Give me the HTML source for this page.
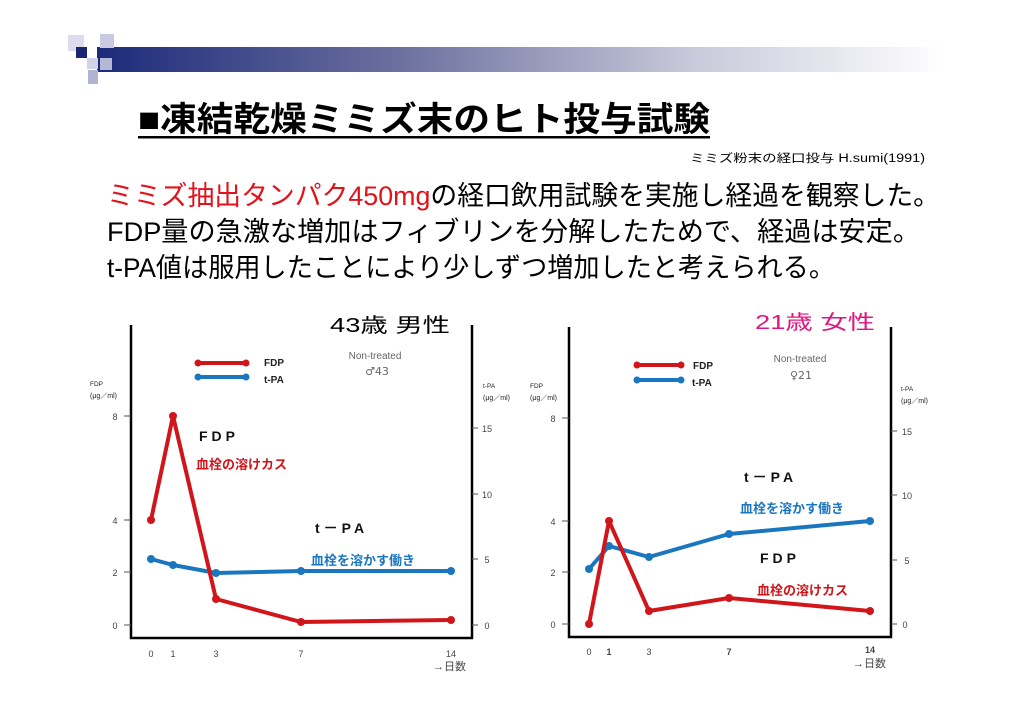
<!DOCTYPE html>
<html><head><meta charset="utf-8"><style>
html,body{margin:0;padding:0;background:#fff;}
svg{display:block;}
text{font-family:"Liberation Sans","Noto Sans CJK JP",sans-serif;}
</style></head><body>
<svg width="1024" height="724" viewBox="0 0 1024 724" xmlns="http://www.w3.org/2000/svg">
<defs>
<linearGradient id="g" x1="0" x2="1" y1="0" y2="0">
<stop offset="0" stop-color="#1c2a7a"/><stop offset="0.35" stop-color="#6a6f9e"/><stop offset="0.7" stop-color="#c8c9da"/><stop offset="1" stop-color="#ffffff"/>
</linearGradient>
</defs>
<rect width="1024" height="724" fill="#fff"/>
<!-- header decoration -->
<rect x="97" y="47" width="850" height="25" fill="url(#g)"/>
<rect x="68" y="35" width="16" height="16" fill="#dcdcee"/>
<rect x="100" y="34" width="14" height="14" fill="#c9cae2"/>
<rect x="76" y="47" width="11" height="11" fill="#1a2470"/>
<rect x="87" y="58" width="11" height="11" fill="#d2d3e8"/>
<rect x="100" y="58" width="12" height="12" fill="#b6b8d6"/>
<rect x="88" y="70" width="10" height="14" fill="#b2b3d2"/>
<!-- title -->
<text x="138" y="131" font-size="34" font-weight="bold" textLength="572" lengthAdjust="spacingAndGlyphs" fill="#000">■凍結乾燥ミミズ末のヒト投与試験</text>
<rect x="138" y="136" width="572" height="2.5" fill="#000"/>
<text x="690" y="162" font-size="11.5" textLength="235" lengthAdjust="spacingAndGlyphs">ミミズ粉末の経口投与  H.sumi(1991)</text>
<!-- body -->
<text x="107" y="205" font-size="27" textLength="833" lengthAdjust="spacingAndGlyphs"><tspan fill="#e3111a">ミミズ抽出タンパク450mg</tspan><tspan fill="#000">の経口飲用試験を実施し経過を観察した。</tspan></text>
<text x="107" y="241" font-size="27" textLength="813" lengthAdjust="spacingAndGlyphs" fill="#000">FDP量の急激な増加はフィブリンを分解したためで、経過は安定。</text>
<text x="107" y="277" font-size="27" textLength="728" lengthAdjust="spacingAndGlyphs" fill="#000">t-PA値は服用したことにより少しずつ増加したと考えられる。</text>

<!-- Chart 1 -->
<g font-family="Liberation Serif" >
<text x="330" y="332" font-size="20" textLength="120" lengthAdjust="spacingAndGlyphs" fill="#000" style="font-family:'Liberation Sans','Noto Sans CJK JP',sans-serif">43歳  男性</text>
<path d="M131 325 V638 H472 V325" fill="none" stroke="#000" stroke-width="2.5"/>
<g stroke="#555" stroke-width="1"><line x1="124" y1="416" x2="131" y2="416"/><line x1="124" y1="520" x2="131" y2="520"/><line x1="124" y1="572" x2="131" y2="572"/><line x1="124" y1="625" x2="131" y2="625"/>
<line x1="472" y1="428" x2="478" y2="428"/><line x1="472" y1="494" x2="478" y2="494"/><line x1="472" y1="559" x2="478" y2="559"/><line x1="472" y1="625" x2="478" y2="625"/></g>
<g font-size="9" fill="#444" text-anchor="middle" style="font-family:'Liberation Serif',serif">
<text x="115" y="420">8</text><text x="115" y="524">4</text><text x="115" y="576">2</text><text x="115" y="629">0</text>
<text x="487" y="432">15</text><text x="487" y="498">10</text><text x="487" y="563">5</text><text x="487" y="629">0</text>
<text x="151" y="657">0</text><text x="173" y="657">1</text><text x="216" y="657">3</text><text x="301" y="657">7</text><text x="451" y="657">14</text>
</g>
<text x="433" y="670" font-size="11" fill="#444" style="font-family:'Liberation Sans','Noto Sans CJK JP',sans-serif">→日数</text>
<text x="90" y="386" font-size="6.5" fill="#222" style="font-family:'Liberation Sans',sans-serif">FDP</text>
<text x="90" y="398" font-size="7" fill="#222" style="font-family:'Liberation Sans','Noto Sans CJK JP',sans-serif">(μg／ml)</text>
<text x="483" y="388" font-size="6.5" fill="#222" style="font-family:'Liberation Sans',sans-serif">t-PA</text>
<text x="483" y="400" font-size="7" fill="#222" style="font-family:'Liberation Sans','Noto Sans CJK JP',sans-serif">(μg／ml)</text>
<line x1="198" y1="363" x2="246" y2="363" stroke="#d0151b" stroke-width="4" stroke-linecap="round"/>
<circle cx="198" cy="363" r="3.5" fill="#d0151b"/><circle cx="246" cy="363" r="3.5" fill="#d0151b"/>
<line x1="198" y1="377" x2="246" y2="377" stroke="#1b76c0" stroke-width="4" stroke-linecap="round"/>
<circle cx="198" cy="377" r="3.5" fill="#1b76c0"/><circle cx="246" cy="377" r="3.5" fill="#1b76c0"/>
<text x="264" y="366" font-size="10" font-weight="bold" fill="#222" style="font-family:'Liberation Sans',sans-serif">FDP</text>
<text x="264" y="383" font-size="10" font-weight="bold" fill="#222" style="font-family:'Liberation Sans',sans-serif">t-PA</text>
<text x="375" y="359" font-size="10" fill="#666" text-anchor="middle" style="font-family:'Liberation Sans',sans-serif">Non-treated</text>
<text x="377" y="375" font-size="11" fill="#666" text-anchor="middle" style="font-family:'DejaVu Sans',sans-serif">♂43</text>
<text x="199" y="441" font-size="14" font-weight="bold" fill="#111" letter-spacing="4" style="font-family:'Liberation Sans',sans-serif">FDP</text>
<text x="196" y="469" font-size="13" font-weight="bold" fill="#d0151b" style="font-family:'Liberation Sans','Noto Sans CJK JP',sans-serif">血栓の溶けカス</text>
<text x="315" y="533" font-size="14" font-weight="bold" fill="#111" letter-spacing="4" style="font-family:'Liberation Sans',sans-serif">t－PA</text>
<text x="311" y="565" font-size="13" font-weight="bold" fill="#1b76c0" style="font-family:'Liberation Sans','Noto Sans CJK JP',sans-serif">血栓を溶かす働き</text>
<polyline points="151,559 173,565 216,573 301,571 451,571" fill="none" stroke="#1b76c0" stroke-width="4" stroke-linejoin="round"/>
<g fill="#1b76c0"><circle cx="151" cy="559" r="4"/><circle cx="173" cy="565" r="4"/><circle cx="216" cy="573" r="4"/><circle cx="301" cy="571" r="4"/><circle cx="451" cy="571" r="4"/></g>
<polyline points="151,520 173,416 216,599 301,622 451,620" fill="none" stroke="#d0151b" stroke-width="4" stroke-linejoin="round"/>
<g fill="#d0151b"><circle cx="151" cy="520" r="4"/><circle cx="173" cy="416" r="4"/><circle cx="216" cy="599" r="4"/><circle cx="301" cy="622" r="4"/><circle cx="451" cy="620" r="4"/></g>
</g>

<!-- Chart 2 -->
<g>
<text x="755" y="329" font-size="20" textLength="120" lengthAdjust="spacingAndGlyphs" fill="#e0157f" style="font-family:'Liberation Sans','Noto Sans CJK JP',sans-serif">21歳  女性</text>
<path d="M569 327 V637 H891 V327" fill="none" stroke="#000" stroke-width="2.5"/>
<g stroke="#555" stroke-width="1"><line x1="562" y1="418" x2="569" y2="418"/><line x1="562" y1="521" x2="569" y2="521"/><line x1="562" y1="572" x2="569" y2="572"/><line x1="562" y1="624" x2="569" y2="624"/>
<line x1="891" y1="431" x2="897" y2="431"/><line x1="891" y1="495" x2="897" y2="495"/><line x1="891" y1="560" x2="897" y2="560"/><line x1="891" y1="624" x2="897" y2="624"/></g>
<g font-size="9" fill="#444" text-anchor="middle" style="font-family:'Liberation Serif',serif">
<text x="553" y="422">8</text><text x="553" y="525">4</text><text x="553" y="576">2</text><text x="553" y="628">0</text>
<text x="907" y="435">15</text><text x="907" y="499">10</text><text x="907" y="564">5</text><text x="905" y="628">0</text>
<text x="589" y="655">0</text><text x="609" y="655" font-weight="bold">1</text><text x="649" y="655">3</text><text x="729" y="655" font-weight="bold">7</text><text x="870" y="653" font-weight="bold">14</text>
</g>
<text x="853" y="667" font-size="11" fill="#444" style="font-family:'Liberation Sans','Noto Sans CJK JP',sans-serif">→日数</text>
<text x="530" y="388" font-size="6.5" fill="#222" style="font-family:'Liberation Sans',sans-serif">FDP</text>
<text x="530" y="400" font-size="7" fill="#222" style="font-family:'Liberation Sans','Noto Sans CJK JP',sans-serif">(μg／ml)</text>
<text x="901" y="391" font-size="6.5" fill="#222" style="font-family:'Liberation Sans',sans-serif">t-PA</text>
<text x="901" y="403" font-size="7" fill="#222" style="font-family:'Liberation Sans','Noto Sans CJK JP',sans-serif">(μg／ml)</text>
<line x1="637" y1="365" x2="681" y2="365" stroke="#d0151b" stroke-width="4" stroke-linecap="round"/>
<circle cx="637" cy="365" r="3.5" fill="#d0151b"/><circle cx="681" cy="365" r="3.5" fill="#d0151b"/>
<line x1="637" y1="380" x2="681" y2="380" stroke="#1b76c0" stroke-width="4" stroke-linecap="round"/>
<circle cx="637" cy="380" r="3.5" fill="#1b76c0"/><circle cx="681" cy="380" r="3.5" fill="#1b76c0"/>
<text x="693" y="369" font-size="10" font-weight="bold" fill="#222" style="font-family:'Liberation Sans',sans-serif">FDP</text>
<text x="692" y="386" font-size="10" font-weight="bold" fill="#222" style="font-family:'Liberation Sans',sans-serif">t-PA</text>
<text x="800" y="362" font-size="10" fill="#666" text-anchor="middle" style="font-family:'Liberation Sans',sans-serif">Non-treated</text>
<text x="801" y="379" font-size="11" fill="#666" text-anchor="middle" style="font-family:'DejaVu Sans',sans-serif">♀21</text>
<text x="744" y="482" font-size="14" font-weight="bold" fill="#111" letter-spacing="4" style="font-family:'Liberation Sans',sans-serif">t－PA</text>
<text x="740" y="513" font-size="13" font-weight="bold" fill="#1b76c0" style="font-family:'Liberation Sans','Noto Sans CJK JP',sans-serif">血栓を溶かす働き</text>
<text x="760" y="563" font-size="14" font-weight="bold" fill="#111" letter-spacing="4" style="font-family:'Liberation Sans',sans-serif">FDP</text>
<text x="757" y="595" font-size="13" font-weight="bold" fill="#d0151b" style="font-family:'Liberation Sans','Noto Sans CJK JP',sans-serif">血栓の溶けカス</text>
<polyline points="589,569 609,546 649,557 729,534 870,521" fill="none" stroke="#1b76c0" stroke-width="4" stroke-linejoin="round"/>
<g fill="#1b76c0"><circle cx="589" cy="569" r="4"/><circle cx="609" cy="546" r="4"/><circle cx="649" cy="557" r="4"/><circle cx="729" cy="534" r="4"/><circle cx="870" cy="521" r="4"/></g>
<polyline points="589,624 609,521 649,611 729,598 870,611" fill="none" stroke="#d0151b" stroke-width="4" stroke-linejoin="round"/>
<g fill="#d0151b"><circle cx="589" cy="624" r="4"/><circle cx="609" cy="521" r="4"/><circle cx="649" cy="611" r="4"/><circle cx="729" cy="598" r="4"/><circle cx="870" cy="611" r="4"/></g>
</g>
</svg>
</body></html>
